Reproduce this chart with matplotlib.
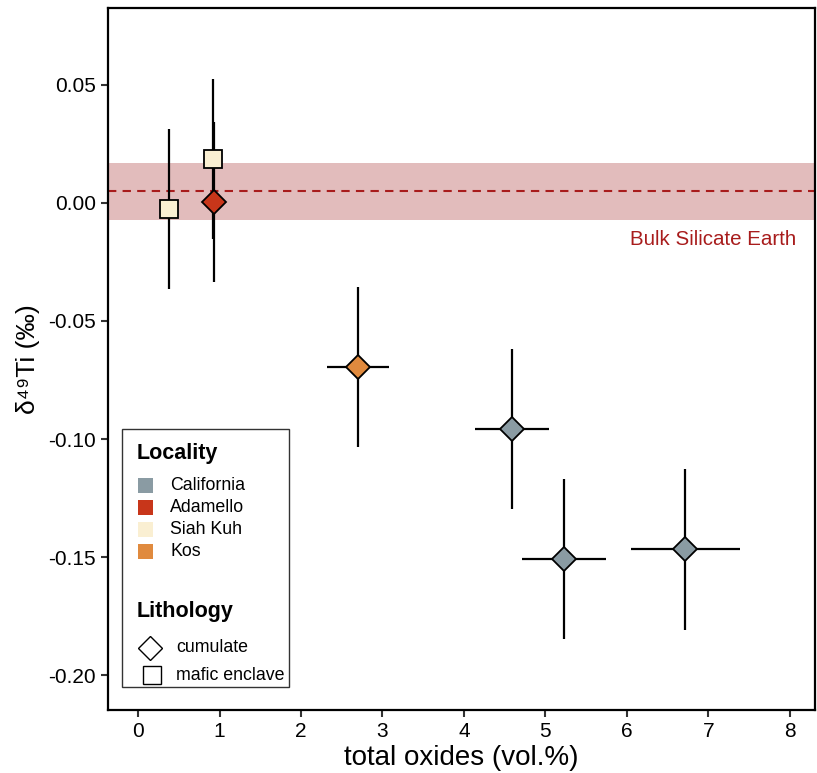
import matplotlib
matplotlib.use("Agg")
import matplotlib.pyplot as plt
from matplotlib.patches import Rectangle

plt.rcParams['font.family'] = ['Liberation Sans', 'DejaVu Sans']

# data
localities = ["Siah Kuh", "Siah Kuh", "Adamello", "Kos", "California", "California", "California"]
lithology = ["mafic enclave", "mafic enclave", "cumulate", "cumulate", "cumulate", "cumulate", "cumulate"]
oxides = [0.38, 0.92, 0.93, 2.70, 4.59, 5.23, 6.72]
oxides_err = [0.0, 0.0, 0.0, 0.38, 0.46, 0.52, 0.67]
d49ti = [-0.0025, 0.0186, 0.0004, -0.0695, -0.0958, -0.1508, -0.1468]
d49ti_err = [0.034, 0.034, 0.034, 0.034, 0.034, 0.034, 0.034]

bse_mean = 0.005
bse_low, bse_high = -0.0072, 0.0168

colors = {"California": "#8a9ba3", "Adamello": "#c8361a",
          "Siah Kuh": "#faefd2", "Kos": "#e08a3e"}
markers = {"cumulate": "D", "mafic enclave": "s"}
marker_sizes = {"cumulate": 12.0, "mafic enclave": 12.5}
locality_order = ["California", "Adamello", "Siah Kuh", "Kos"]
lithology_order = ["cumulate", "mafic enclave"]

W, H = 817, 773
AX_L, AX_R, AX_T, AX_B = 108, 815, 8, 710

fig = plt.figure(figsize=(W / 100, H / 100), dpi=100)
ax = fig.add_axes([AX_L / W, 1 - AX_B / H, (AX_R - AX_L) / W, (AX_B - AX_T) / H])

ax.axhspan(bse_low, bse_high, color="#e2bcbc", zorder=0, lw=0)
ax.axhline(bse_mean, color="#a81c1c", ls=(0, (4, 3)), lw=1.5, zorder=1)
ax.text(8.08, -0.0155, "Bulk Silicate Earth", color="#a81c1c", fontsize=14.8,
        ha="right", va="center")

for x, xe, y, ye in zip(oxides, oxides_err, d49ti, d49ti_err):
    ax.errorbar(x, y, xerr=xe if xe > 0 else None, yerr=ye, fmt="none",
                ecolor="black", elinewidth=1.6, capsize=0, zorder=2)
for x, y, loc, lit in zip(oxides, d49ti, localities, lithology):
    ax.plot(x, y, marker=markers[lit], ms=marker_sizes[lit], mfc=colors[loc],
            mec="black", mew=1.3, ls="none", zorder=3)

ax.set_xlim(-0.37, 8.31)
ax.set_ylim(-0.2148, 0.0826)
ax.set_xticks(range(0, 9))
ax.set_yticks([0.05, 0.0, -0.05, -0.10, -0.15, -0.20])
ax.set_yticklabels(["0.05", "0.00", "-0.05", "-0.10", "-0.15", "-0.20"])
ax.tick_params(labelsize=15, width=1.5, length=5, color="#333333")
for s in ax.spines.values():
    s.set_linewidth(1.6)
ax.set_xlabel("total oxides (vol.%)", fontsize=20, labelpad=3)
ax.set_ylabel("δ⁴⁹Ti (‰)", fontsize=19, labelpad=6)

# legend (built by hand in axes-fraction coordinates)
def ax_xy(px, py):
    return (px - AX_L) / (AX_R - AX_L), (AX_B - py) / (AX_B - AX_T)

tr = ax.transAxes
x0, y0 = ax_xy(122, 687)
x1, y1 = ax_xy(289, 429)
ax.add_patch(Rectangle((x0, y0), x1 - x0, y1 - y0, transform=tr, fc="white",
                       ec="#333333", lw=1.0, zorder=5, clip_on=False))
tx, ty = ax_xy(137, 453)
ax.text(tx, ty, "Locality", transform=tr, fontsize=15.5, fontweight="bold",
        va="center", ha="left", zorder=6)
for i, loc in enumerate(locality_order):
    py = 485 + 22 * i
    px0, py0 = ax_xy(138, py + 7.5)
    px1, py1 = ax_xy(153, py - 7.5)
    ax.add_patch(Rectangle((px0, py0), px1 - px0, py1 - py0, transform=tr,
                           fc=colors[loc], ec="none", zorder=6, clip_on=False))
    lx, ly = ax_xy(170, py)
    ax.text(lx, ly, loc, transform=tr, fontsize=12.8, va="center", ha="left", zorder=6)
tx, ty = ax_xy(137, 612)
ax.text(tx, ty, "Lithology", transform=tr, fontsize=15.5, fontweight="bold",
        va="center", ha="left", zorder=6)
for lit, py, mx, ms in zip(lithology_order, [648, 675], [150, 152], [11.8, 13]):
    mx_, my_ = ax_xy(mx, py)
    ax.plot([mx_], [my_], marker=markers[lit], ms=ms, mfc="white", mec="black",
            mew=1.0, ls="none", transform=tr, zorder=6, clip_on=False)
    lx, ly = ax_xy(176, py)
    ax.text(lx, ly, lit, transform=tr, fontsize=12.8, va="center", ha="left", zorder=6)

fig.savefig("out.png", dpi=100)
